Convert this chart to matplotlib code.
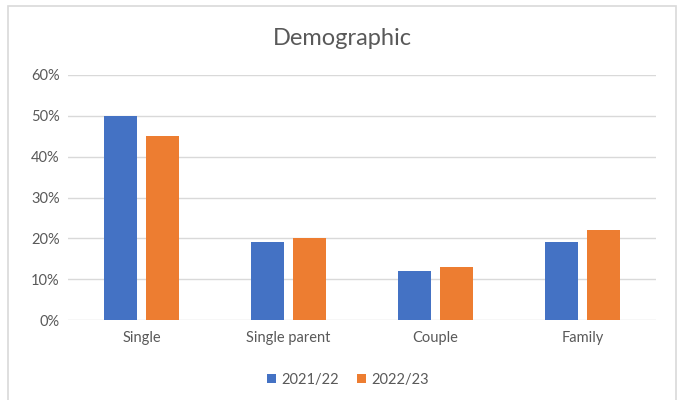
import numpy as np
import matplotlib.pyplot as plt
from matplotlib.patches import Rectangle
from matplotlib.ticker import PercentFormatter

plt.rcParams['font.family'] = ['Lato', 'DejaVu Sans']

# data
categories = ['Single', 'Single parent', 'Couple', 'Family']
series_names = ['2021/22', '2022/23']
values_2122 = [0.50, 0.19, 0.12, 0.19]
values_2223 = [0.45, 0.20, 0.13, 0.22]
colors = ['#4472C4', '#ED7D31']
text_col = '#595959'
grid_col = '#D9D9D9'

fig = plt.figure(figsize=(6.8, 4), dpi=100)
ax = fig.add_axes([68 / 680, 80 / 400, 588 / 680, 245 / 400])

# outer chart frame
fig.patches.append(Rectangle((8 / 680, -0.1), 668 / 680, 1.1 - 6 / 400,
                             transform=fig.transFigure, fill=False,
                             edgecolor=grid_col, linewidth=1.2))

x = np.arange(len(categories))
w = 0.22
off = 0.143
ax.bar(x - off, values_2122, w, color=colors[0], label=series_names[0], zorder=3)
ax.bar(x + off, values_2223, w, color=colors[1], label=series_names[1], zorder=3)

ax.set_xlim(-0.5, len(categories) - 0.5)
ax.set_ylim(0, 0.6)
ax.set_yticks(np.arange(0, 0.61, 0.1))
ax.yaxis.set_major_formatter(PercentFormatter(1.0, decimals=0))
ax.grid(axis='y', color=grid_col, linewidth=1, zorder=0)
for s in ax.spines.values():
    s.set_visible(False)
ax.set_xticks(x)
ax.set_xticklabels(categories)
ax.tick_params(axis='both', length=0, colors=text_col, labelsize=10.5)
ax.tick_params(axis='x', pad=8)
ax.tick_params(axis='y', pad=6)

fig.text(0.503, 0.903, 'Demographic', ha='center', va='center',
         fontsize=17, color=text_col)

leg = fig.legend(loc='center', bbox_to_anchor=(0.512, 0.05), ncol=2,
                 frameon=False, fontsize=10.5, handlelength=0.6, handleheight=0.6,
                 handletextpad=0.4, columnspacing=1.2)
for t in leg.get_texts():
    t.set_color(text_col)

fig.savefig('out.png', dpi=100)
